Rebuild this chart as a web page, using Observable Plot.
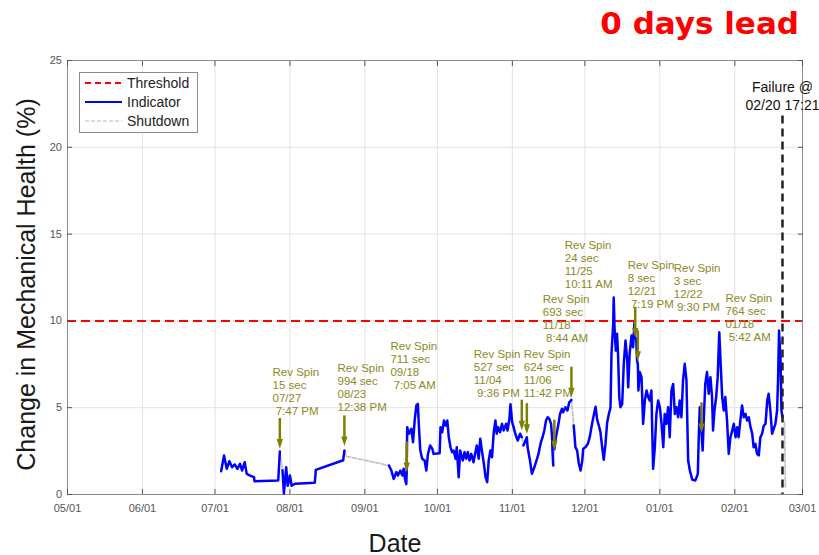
<!DOCTYPE html>
<html>
<head>
<meta charset="utf-8">
<script src="https://cdn.jsdelivr.net/npm/d3@7"></script>
<script src="https://cdn.jsdelivr.net/npm/@observablehq/plot@0.6"></script>
<style>
  body { margin: 0; background: #fff; }
  #chart { position: relative; width: 819px; height: 555px; font-family: "Liberation Sans", Arial, Helvetica, sans-serif; }
  #title { position: absolute; right: 20px; top: 5px; font: bold 31px "DejaVu Sans", Verdana, sans-serif; color: #ff0000; white-space: nowrap; }
  #legend { position: absolute; left: 79px; top: 72px; }
</style>
</head>
<body>
<div id="chart">
  <div id="plot"></div>
  <div id="title">0 days lead</div>
  <svg id="legend" width="119" height="61"></svg>
</div>
<script>
// Month ticks along the date axis (May through the following March)
const monthTicks = ["05/01", "06/01", "07/01", "08/01", "09/01", "10/01", "11/01", "12/01", "01/01", "02/01", "03/01"];
const healthTicks = [0, 5, 10, 15, 20, 25];
const threshold = 10;
const failureTime = "02/20 17:21";

// Indicator runs: [timestamp "MM/DD HH:MM", change in mechanical health %]
const runJul = [
  ["07/03 13:00", 1.34], ["07/04 18:00", 2.25], ["07/05 21:00", 1.48], ["07/06 23:00", 1.92], ["07/08 02:00", 1.57],
  ["07/09 04:00", 1.73], ["07/10 06:00", 1.48], ["07/11 09:00", 1.77], ["07/12 05:00", 1.38], ["07/13 07:00", 1.86],
  ["07/14 03:00", 1.19], ["07/15 12:00", 1.09], ["07/17 04:00", 1.0], ["07/17 08:00", 0.77], ["07/27 04:00", 0.81],
  ["07/27 19:47", 2.48]
];
const runAug = [
  ["07/28 22:00", 1.4], ["07/29 12:00", 0.06], ["07/30 11:00", 1.57], ["07/31 02:00", 0.5], ["08/01 00:00", 1.1],
  ["08/01 17:00", 0.5], ["08/03 01:00", 0.62], ["08/11 07:00", 0.68], ["08/11 17:00", 1.42], ["08/23 00:00", 1.97],
  ["08/23 12:38", 2.53]
];
const runSepNov = [
  ["09/10 23:00", 1.67], ["09/11 23:00", 1.38], ["09/12 22:00", 0.9], ["09/14 00:00", 1.29], ["09/14 16:00", 1.09],
  ["09/15 16:00", 1.38], ["09/16 12:00", 1.09], ["09/17 01:00", 1.48], ["09/17 14:00", 0.9], ["09/18 03:00", 0.6],
  ["09/18 07:05", 1.3], ["09/18 12:00", 3.88], ["09/19 05:00", 3.5], ["09/20 05:00", 3.78], ["09/20 22:00", 3.01],
  ["09/21 14:00", 4.26], ["09/22 07:00", 5.13], ["09/22 22:00", 5.22], ["09/23 07:00", 4.07], ["09/23 22:00", 2.53],
  ["09/24 17:00", 2.06], ["09/25 17:00", 1.96], ["09/26 10:00", 1.38], ["09/27 02:00", 2.34], ["09/28 00:00", 2.82],
  ["09/28 22:00", 2.63], ["09/29 10:00", 2.34], ["10/01 22:00", 2.38], ["10/02 07:00", 3.88], ["10/03 00:00", 3.59],
  ["10/03 17:00", 4.26], ["10/04 10:00", 3.97], ["10/05 02:00", 4.26], ["10/05 17:00", 3.3], ["10/06 10:00", 2.72],
  ["10/07 02:00", 2.44], ["10/07 17:00", 2.53], ["10/08 12:00", 2.06], ["10/09 00:00", 2.72], ["10/09 19:00", 1.0],
  ["10/10 10:00", 2.53], ["10/11 12:00", 1.96], ["10/12 05:00", 2.44], ["10/12 22:00", 2.06], ["10/13 14:00", 2.44],
  ["10/14 07:00", 1.96], ["10/15 00:00", 2.34], ["10/15 22:00", 1.86], ["10/16 17:00", 2.44], ["10/17 07:00", 2.82],
  ["10/18 02:00", 2.06], ["10/18 17:00", 3.21], ["10/19 12:00", 2.44], ["10/20 05:00", 1.77], ["10/20 22:00", 1.0],
  ["10/21 14:00", 0.71], ["10/22 05:00", 1.96], ["10/22 22:00", 2.53], ["10/23 14:00", 2.15], ["10/24 07:00", 3.59],
  ["10/25 00:00", 4.26], ["10/25 12:00", 3.5], ["10/26 02:00", 3.88], ["10/26 22:00", 3.59], ["10/27 17:00", 4.07],
  ["10/28 10:00", 3.69], ["10/29 10:00", 4.07], ["10/30 00:00", 3.69], ["10/30 19:00", 4.36], ["10/31 05:00", 5.2],
  ["10/31 22:00", 4.17], ["11/01 12:00", 3.88], ["11/02 05:00", 3.5], ["11/03 05:00", 3.11], ["11/04 05:00", 3.5],
  ["11/04 21:36", 3.3]
];
const runNovEarly = [
  ["11/05 14:00", 2.82], ["11/06 23:42", 3.3], ["11/07 07:00", 2.72], ["11/08 07:00", 1.96], ["11/09 02:00", 1.19],
  ["11/10 02:00", 1.57], ["11/11 00:00", 1.96], ["11/11 19:00", 2.34], ["11/12 19:00", 3.01], ["11/13 12:00", 3.3],
  ["11/14 05:00", 3.69], ["11/14 22:00", 4.26], ["11/15 14:00", 4.45], ["11/16 07:00", 4.36], ["11/17 00:00", 4.07],
  ["11/17 10:00", 3.3], ["11/17 14:00", 2.53], ["11/17 22:00", 1.67]
];
const runNovLate = [
  ["11/18 08:44", 2.6], ["11/19 00:00", 3.3], ["11/20 02:00", 4.07], ["11/20 17:00", 4.64], ["11/21 12:00", 4.93],
  ["11/22 00:00", 4.74], ["11/22 22:00", 5.03], ["11/23 19:00", 4.84], ["11/24 12:00", 5.3], ["11/25 10:11", 5.45]
];
const runDecFeb = [
  ["11/26 09:00", 3.97], ["11/27 02:00", 2.72], ["11/27 19:00", 2.53], ["11/28 12:00", 1.77], ["11/29 05:00", 1.38],
  ["11/29 22:00", 1.96], ["11/30 07:00", 2.63], ["12/01 05:00", 2.72], ["12/02 05:00", 2.92], ["12/03 00:00", 3.3],
  ["12/04 00:00", 4.1], ["12/04 17:00", 4.6], ["12/05 10:00", 5.05], ["12/06 02:00", 4.3], ["12/06 17:00", 4.0],
  ["12/07 10:00", 3.6], ["12/08 02:00", 2.8], ["12/08 19:00", 2.0], ["12/09 12:00", 2.9], ["12/10 05:00", 4.15],
  ["12/10 22:00", 4.64], ["12/11 14:00", 5.0], ["12/12 00:00", 8.1], ["12/12 17:00", 9.83], ["12/12 22:00", 11.35],
  ["12/13 07:00", 9.45], ["12/13 19:00", 8.29], ["12/14 07:00", 9.26], ["12/14 17:00", 8.1], ["12/15 05:00", 5.61],
  ["12/15 17:00", 5.03], ["12/16 10:00", 5.22], ["12/17 02:00", 7.53], ["12/17 19:00", 8.87], ["12/18 12:00", 7.72],
  ["12/18 22:00", 6.18], ["12/19 12:00", 8.1], ["12/20 07:00", 9.16], ["12/20 22:00", 8.48], ["12/21 12:00", 9.9],
  ["12/21 19:19", 9.0], ["12/22 05:00", 8.97], ["12/22 14:00", 7.72], ["12/22 21:30", 7.5], ["12/23 03:00", 5.99],
  ["12/23 17:00", 7.05], ["12/24 10:00", 6.76], ["12/25 02:00", 4.07], ["12/25 19:00", 5.41], ["12/26 12:00", 5.99],
  ["12/27 05:00", 5.61], ["12/27 19:00", 5.41], ["12/28 12:00", 5.99], ["12/29 05:00", 1.48], ["12/29 22:00", 2.72],
  ["12/30 14:00", 4.64], ["12/31 07:00", 5.41], ["01/01 00:00", 5.03], ["01/01 17:00", 4.07], ["01/02 10:00", 2.72],
  ["01/03 00:00", 4.64], ["01/03 17:00", 4.07], ["01/04 10:00", 5.03], ["01/05 02:00", 3.3], ["01/05 19:00", 5.99],
  ["01/06 12:00", 6.37], ["01/07 05:00", 4.64], ["01/07 22:00", 5.03], ["01/08 14:00", 4.45], ["01/09 05:00", 5.41],
  ["01/09 22:00", 4.45], ["01/10 14:00", 6.57], ["01/11 07:00", 7.53], ["01/12 00:00", 6.57], ["01/12 17:00", 1.96],
  ["01/13 10:00", 1.38], ["01/14 10:00", 0.85], ["01/15 17:00", 0.81], ["01/16 17:00", 1.19], ["01/17 02:00", 3.3],
  ["01/17 12:00", 5.03], ["01/18 02:00", 3.88], ["01/18 05:42", 3.5], ["01/18 17:00", 2.53], ["01/19 05:00", 4.45],
  ["01/19 19:00", 6.37], ["01/20 12:00", 7.05], ["01/21 05:00", 5.8], ["01/21 22:00", 6.76], ["01/22 14:00", 5.61],
  ["01/23 00:00", 3.69], ["01/23 14:00", 4.84], ["01/24 07:00", 5.61], ["01/24 22:00", 6.76], ["01/25 14:00", 9.35],
  ["01/26 05:00", 7.34], ["01/26 19:00", 5.61], ["01/27 10:00", 4.84], ["01/28 02:00", 5.61], ["01/28 19:00", 4.26],
  ["01/29 12:00", 2.34], ["01/30 05:00", 3.3], ["01/30 22:00", 3.69], ["01/31 14:00", 4.07], ["02/01 07:00", 3.3],
  ["02/02 00:00", 3.88], ["02/02 14:00", 3.3], ["02/03 07:00", 4.26], ["02/04 00:00", 5.13], ["02/04 17:00", 4.45],
  ["02/05 10:00", 4.64], ["02/06 02:00", 4.26], ["02/06 19:00", 4.45], ["02/07 12:00", 3.88], ["02/08 05:00", 3.5],
  ["02/08 19:00", 2.72], ["02/09 12:00", 2.92], ["02/10 05:00", 2.34], ["02/10 22:00", 2.25], ["02/11 14:00", 3.3],
  ["02/12 07:00", 3.5], ["02/13 00:00", 3.97], ["02/13 17:00", 4.07], ["02/14 10:00", 5.41], ["02/15 00:00", 5.8],
  ["02/15 17:00", 4.84], ["02/16 10:00", 3.5], ["02/17 02:00", 3.78], ["02/17 19:00", 4.07], ["02/18 12:00", 4.84],
  ["02/18 22:00", 6.76], ["02/19 07:00", 9.45], ["02/19 22:00", 7.72], ["02/20 07:00", 4.84], ["02/20 17:00", 4.45]
];
const indicatorRuns = [runJul, runAug, runSepNov, runNovEarly, runNovLate, runDecFeb];

// Shutdown stretches bridging the indicator runs
const shutdownRuns = [
  [["07/27 19:47", 2.48], ["07/28 22:00", 1.4]],
  [["08/23 12:38", 2.53], ["08/24 10:00", 2.2], ["09/10 23:00", 1.67]],
  [["11/04 21:36", 3.3], ["11/05 14:00", 2.82]],
  [["11/17 22:00", 1.67], ["11/18 08:44", 2.6]],
  [["11/25 10:11", 5.45], ["11/26 09:00", 3.97]],
  [["02/20 17:00", 4.45], ["02/21 14:00", 4.1], ["02/21 22:00", 0.4]]
];

// Reverse-spin events: time, duration (s), arrow tip value, label anchor (date, top value)
const spinTimes = ["07/27 19:47", "08/23 12:38", "09/18 07:05", "11/04 21:36", "11/06 23:42", "11/18 08:44", "11/25 10:11", "12/21 19:19", "12/22 21:30", "01/18 05:42"];
const spinSeconds = [15, 994, 711, 527, 624, 693, 24, 8, 3, 764];
const arrowTips = [2.65, 2.8, 1.3, 3.7, 3.5, 2.55, 5.6, 9.05, 7.7, 3.55];
const labelDates = ["07/24 19:00", "08/20 16:00", "09/11 14:00", "10/16 01:00", "11/05 17:00", "11/13 14:00", "11/22 16:00", "12/18 17:00", "01/06 18:00", "01/28 03:00"];
const labelTops = [7.37, 7.6, 8.87, 8.41, 8.41, 11.58, 14.69, 13.54, 13.36, 11.64];

const olive = "#808000";
const parseStamp = d3.utcParse("%Y/%m/%d %H:%M");
function stamp(s) {
  const [md, hm = "00:00"] = s.split(" ");
  const year = +md.slice(0, 2) >= 5 ? 2018 : 2019;
  return parseStamp(`${year}/${md} ${hm}`);
}
const fmtDay = d3.utcFormat("%m/%d");
const fmtClock = d3.utcFormat("%_I:%M %p");

const indicator = indicatorRuns.flatMap((run, i) => run.map(([t, v]) => ({date: stamp(t), value: v, run: i})));
const shutdown = shutdownRuns.flatMap((run, i) => run.map(([t, v]) => ({date: stamp(t), value: v, run: i})));
const spins = spinTimes.map((t, i) => {
  const date = stamp(t);
  return {
    date,
    tip: arrowTips[i],
    top: arrowTips[i] + 1.5,
    labelDate: stamp(labelDates[i]),
    labelTop: labelTops[i],
    text: `Rev Spin\n${spinSeconds[i]} sec\n${fmtDay(date)}\n${fmtClock(date).replace(/^ /, "\u00a0")}`
  };
});
const failure = stamp(failureTime);
const tickDates = monthTicks.map(stamp);

// Downward-pointing arrowhead, tip at +r
const arrowHead = {
  draw(context, size) {
    const r = Math.sqrt(size / Math.PI);
    context.moveTo(-0.75 * r, -1.3 * r);
    context.lineTo(0.75 * r, -1.3 * r);
    context.lineTo(0, r);
    context.closePath();
  }
};

const chart = Plot.plot({
  width: 819,
  height: 555,
  marginTop: 60,
  marginRight: 17,
  marginBottom: 61,
  marginLeft: 67,
  style: {fontFamily: "'Liberation Sans', Arial, Helvetica, sans-serif", fontSize: "11px", background: "white", color: "#555", overflow: "visible"},
  x: {type: "utc", domain: [stamp(monthTicks[0]), stamp(monthTicks[monthTicks.length - 1])]},
  y: {domain: [healthTicks[0], healthTicks[healthTicks.length - 1]]},
  marks: [
    Plot.gridX(tickDates, {stroke: "#e2e2e2", strokeOpacity: 1}),
    Plot.gridY(healthTicks, {stroke: "#e2e2e2", strokeOpacity: 1}),
    Plot.frame({stroke: "#8c8c8c"}),
    Plot.ruleY([threshold], {stroke: "#ff0000", strokeWidth: 2, strokeDasharray: "9,5"}),
    Plot.line(shutdown, {x: "date", y: "value", z: "run", stroke: "#c4c4c4", strokeWidth: 1.8, strokeDasharray: "4,2"}),
    Plot.line(indicator, {x: "date", y: "value", z: "run", stroke: "#0000ff", strokeWidth: 2.5}),
    Plot.ruleX([failure], {y1: 21.8, y2: 0, stroke: "#222", strokeWidth: 2.5, strokeDasharray: "8,5"}),
    Plot.ruleX(spins, {x: "date", y1: "top", y2: "tip", stroke: olive, strokeWidth: 2.5, dy: -4}),
    Plot.dot(spins, {x: "date", y: "tip", symbol: arrowHead, r: 4.2, fill: olive, stroke: "none", dy: -4}),
    Plot.text(spins, {x: "labelDate", y: "labelTop", text: "text", textAnchor: "start", lineAnchor: "top", fontSize: 11.5, lineHeight: 1.13, fill: "#8a8a1e"}),
    Plot.text([`Failure @\n${fmtDay(failure)} ${d3.utcFormat("%H:%M")(failure)}`], {x: failure, y: 23.9, lineAnchor: "top", fontSize: 14, lineHeight: 1.25, fill: "#111"}),
    Plot.axisX(tickDates, {tickFormat: fmtDay, tickSize: -5, tickPadding: 15, stroke: "#555", fill: "#555", label: null, fontSize: 11}),
    Plot.axisX(tickDates, {anchor: "top", tickFormat: () => "", tickSize: -5, stroke: "#555", label: null}),
    Plot.axisY(healthTicks, {tickSize: -5, tickPadding: 10.5, stroke: "#555", fill: "#555", label: null, fontSize: 11}),
    Plot.axisY(healthTicks, {anchor: "right", tickFormat: () => "", tickSize: -5, stroke: "#555", label: null}),
    Plot.text(["Change in Mechanical Health (%)"], {frameAnchor: "left", textAnchor: "middle", lineAnchor: "middle", dx: -41, dy: 7, rotate: -90, fontSize: 25, fill: "#1a1a1a"}),
    Plot.text(["Date"], {frameAnchor: "bottom", textAnchor: "middle", lineAnchor: "middle", dx: -40, dy: 49, fontSize: 25, fill: "#1a1a1a"})
  ]
});
document.getElementById("plot").append(chart);

// Line legend
const legendItems = [
  {label: "Threshold", stroke: "#ff0000", dash: "6,4", width: 2},
  {label: "Indicator", stroke: "#0000ff", dash: null, width: 2},
  {label: "Shutdown", stroke: "#cfcfcf", dash: "4,2", width: 1.5}
];
const legend = d3.select("#legend");
legend.append("rect").attr("x", 0.5).attr("y", 0.5).attr("width", 118).attr("height", 60)
  .attr("fill", "white").attr("stroke", "#8c8c8c");
const rows = legend.selectAll("g").data(legendItems).join("g")
  .attr("transform", (d, i) => `translate(0,${11 + i * 19})`);
rows.append("line").attr("x1", 6).attr("x2", 43)
  .attr("stroke", d => d.stroke).attr("stroke-width", d => d.width).attr("stroke-dasharray", d => d.dash);
rows.append("text").attr("x", 48).attr("dy", "0.35em").text(d => d.label)
  .attr("font-family", "'Liberation Sans', Arial, sans-serif").attr("font-size", 14).attr("fill", "#222");
</script>
</body>
</html>
